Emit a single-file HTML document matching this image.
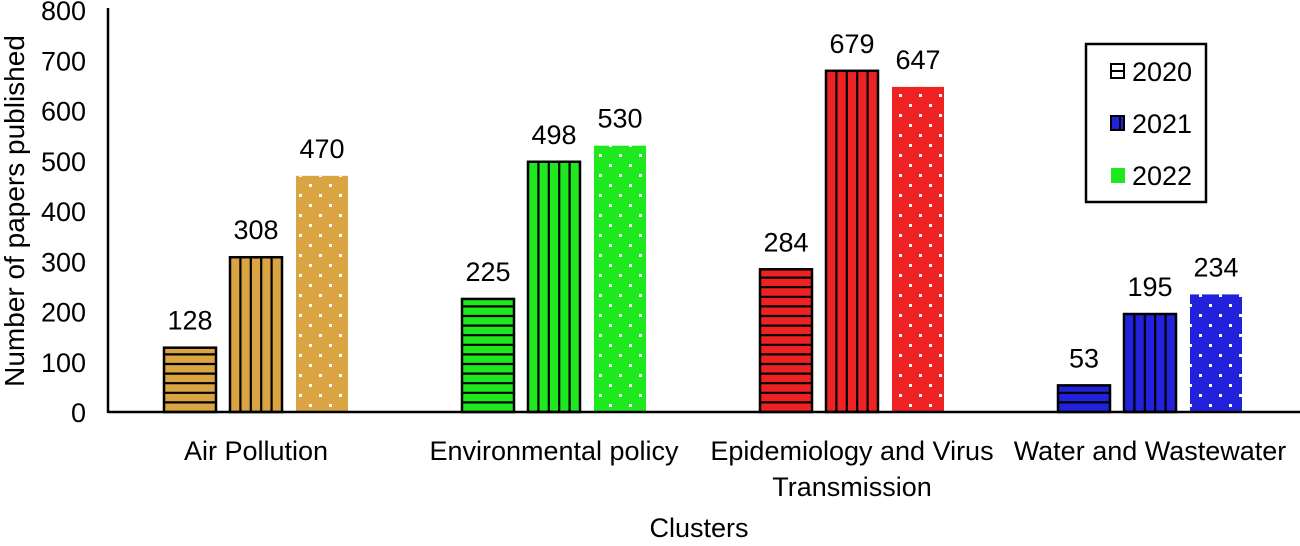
<!DOCTYPE html>
<html><head><meta charset="utf-8"><style>
body{margin:0;background:#fff}
svg text{font-family:"Liberation Sans",sans-serif;fill:#000}
</style></head><body>
<svg id="chart" width="1300" height="541" viewBox="0 0 1300 541">
<defs>
<pattern id="dots" width="20" height="20" patternUnits="userSpaceOnUse"><rect x="9" y="4" width="3" height="3" fill="#fff"/><rect x="19" y="14" width="3" height="3" fill="#fff"/><rect x="-1" y="14" width="3" height="3" fill="#fff"/></pattern>
</defs>
<g id="bars"></g>
<g id="axis"></g>
<text x="24" y="211" font-size="28" text-anchor="middle" transform="rotate(-90 24 211)">Number of papers published</text>
<text x="699" y="537" font-size="27" text-anchor="middle">Clusters</text>
<g>
<rect x="1086" y="44" width="120" height="158" fill="#fff" stroke="#000" stroke-width="2.5"/>
<g><rect x="1111" y="64" width="13" height="14" fill="#fff" stroke="#000" stroke-width="2"/><line x1="1111" y1="71" x2="1124" y2="71" stroke="#000" stroke-width="2"/><text x="1132" y="81" font-size="27">2020</text></g>
<g><rect x="1111" y="116" width="13" height="14" fill="#2222dd" stroke="#000" stroke-width="2"/><line x1="1120" y1="116" x2="1120" y2="130" stroke="#000" stroke-width="2"/><text x="1132" y="133" font-size="27">2021</text></g>
<g><rect x="1111" y="168" width="14" height="15" fill="#1ee81e"/><text x="1132" y="185" font-size="27">2022</text></g>
</g>
</svg>
<script>
const categories=[["Air Pollution"],["Environmental policy"],["Epidemiology and Virus","Transmission"],["Water and Wastewater"]];
const colors=["#d9a441","#1ee81e","#ee2222","#2222dd"];
const years=["2020","2021","2022"];
const v2020=[128,225,284,53];
const v2021=[308,498,679,195];
const v2022=[470,530,647,234];
const yTicks=[0,100,200,300,400,500,600,700,800];
const NS="http://www.w3.org/2000/svg";
const y=v=>412-v*0.5025;
const gx=i=>256+i*298;
function mk(t,a,p){const e=document.createElementNS(NS,t);for(const k in a)e.setAttribute(k,a[k]);p.appendChild(e);return e;}
const ax=document.getElementById('axis'),bg=document.getElementById('bars');
const yl=mk('line',{x1:108,y1:8,x2:108,y2:413,stroke:'#000','stroke-width':2.5},ax);


const xl=mk('line',{x1:108,y1:412,x2:1300,y2:412,stroke:'#000','stroke-width':2.5},ax);


yTicks.forEach(t=>{const tx=mk('text',{x:86,y:y(t)+10,'font-size':27,'text-anchor':'end'},ax);tx.textContent=t;

});
categories.forEach((c,i)=>{c.forEach((ln,j)=>{const tx=mk('text',{x:gx(i),y:460+j*36,'font-size':27,'text-anchor':'middle'},ax);tx.textContent=ln;

});});
const series=[v2020,v2021,v2022];
series.forEach((s,k)=>{s.forEach((v,i)=>{
 const x=gx(i)-92+k*66, w=52, top=y(v), h=412-top;
 const g=mk('g',{},bg);
 
 
 mk('rect',{x:x,y:top,width:w,height:h,fill:colors[i]},g);
 if(k===0){for(let yy=412-9.6;yy>top+3;yy-=9.6)mk('line',{x1:x,y1:yy,x2:x+w,y2:yy,stroke:'#000','stroke-width':2.2},g);}
 if(k===1){for(let xx=x+10.4;xx<x+w-3;xx+=10.4)mk('line',{x1:xx,y1:top,x2:xx,y2:412,stroke:'#000','stroke-width':2.2},g);}
 if(k<2)mk('rect',{x:x,y:top,width:w,height:h,fill:'none',stroke:'#000','stroke-width':2.5},g);
 else mk('rect',{x:x,y:top,width:w,height:h,fill:'url(#dots)'},g);
 const tx=mk('text',{x:x+w/2,y:top-18,'font-size':27,'text-anchor':'middle'},g);tx.textContent=v;
 
 
});});
</script>
</body></html>
